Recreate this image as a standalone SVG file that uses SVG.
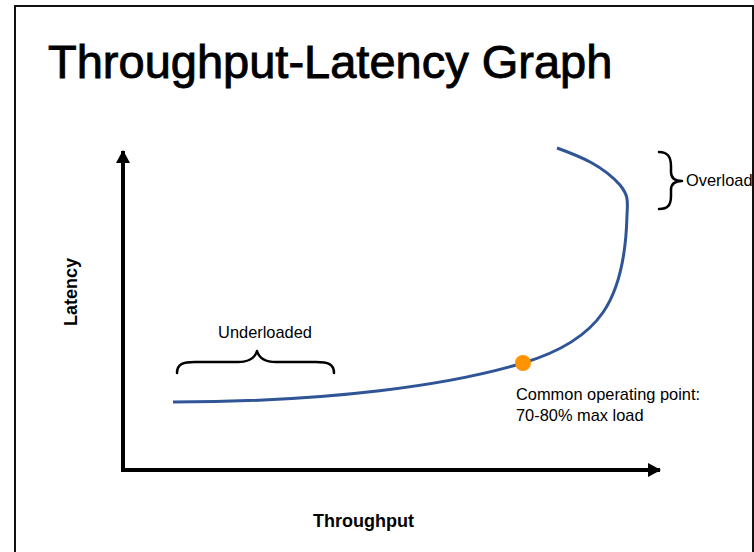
<svg xmlns="http://www.w3.org/2000/svg" width="754" height="552" viewBox="0 0 754 552">
<defs>
<style>
.lbl{font-family:"Liberation Sans",Arial,sans-serif;font-size:16.4px;fill:#000}
.ax{font-family:"Liberation Sans",Arial,sans-serif;font-size:18px;font-weight:bold;fill:#000}
.brace{fill:none;stroke:#000;stroke-width:2.5;stroke-linecap:round;stroke-linejoin:round}
.axis{stroke:#000;stroke-width:4;fill:none}
</style>
<marker id="ah" viewBox="0 0 13 14" refX="12" refY="7" markerWidth="13" markerHeight="14" markerUnits="userSpaceOnUse" orient="auto">
<path d="M0,0 L13,7 L0,14 Z" fill="#000"/>
</marker>
</defs>
<rect x="0" y="0" width="754" height="552" fill="#fff"/>
<rect x="15" y="6" width="738" height="560" fill="none" stroke="#111" stroke-width="2"/>
<g id="title"><text x="48" y="78" style="font-family:'Liberation Sans',Arial,sans-serif;font-size:47px;fill:#000;stroke:#000;stroke-width:0.9">Throughput-Latency Graph</text></g>
<g id="connectors">
<path class="axis" d="M123,471 L123,151" marker-end="url(#ah)"/>
<path class="axis" d="M121,470 L660,470" marker-end="url(#ah)"/>
<path d="M173,402 C330,402 450,385 523,363 C600,340 625,300 627,215 C628,200 628,195 620,185 C603,166 582,157 557,148" fill="none" stroke="#2F5597" stroke-width="3"/>
</g>
<g id="point"><circle cx="523" cy="363" r="8" fill="#FF9300"/></g>
<g id="underloaded">
<path class="brace" d="M177,373 C177,364 183,362 195,362 L238,362 C250,362 255,358 257,351 C259,358 264,362 276,362 L316,362 C328,362 334,364 334,373"/>
<text class="lbl" x="265" y="338" text-anchor="middle">Underloaded</text>
</g>
<g id="overload">
<path class="brace" d="M659,152 C668,152 671,157 671,166 L671,172 C671,178 675,181 682,181 C675,181 671,184 671,190 L671,196 C671,205 668,209 659,209"/>
<text class="lbl" x="686" y="186">Overload</text>
</g>
<g id="common">
<text class="lbl" x="516" y="400">Common operating point:</text>
<text class="lbl" x="516" y="421">70-80% max load</text>
</g>
<g id="ylabel"><text class="ax" transform="translate(76.5,292) rotate(-90)" text-anchor="middle">Latency</text></g>
<g id="xlabel"><text class="ax" x="363.5" y="527" text-anchor="middle">Throughput</text></g>
</svg>
